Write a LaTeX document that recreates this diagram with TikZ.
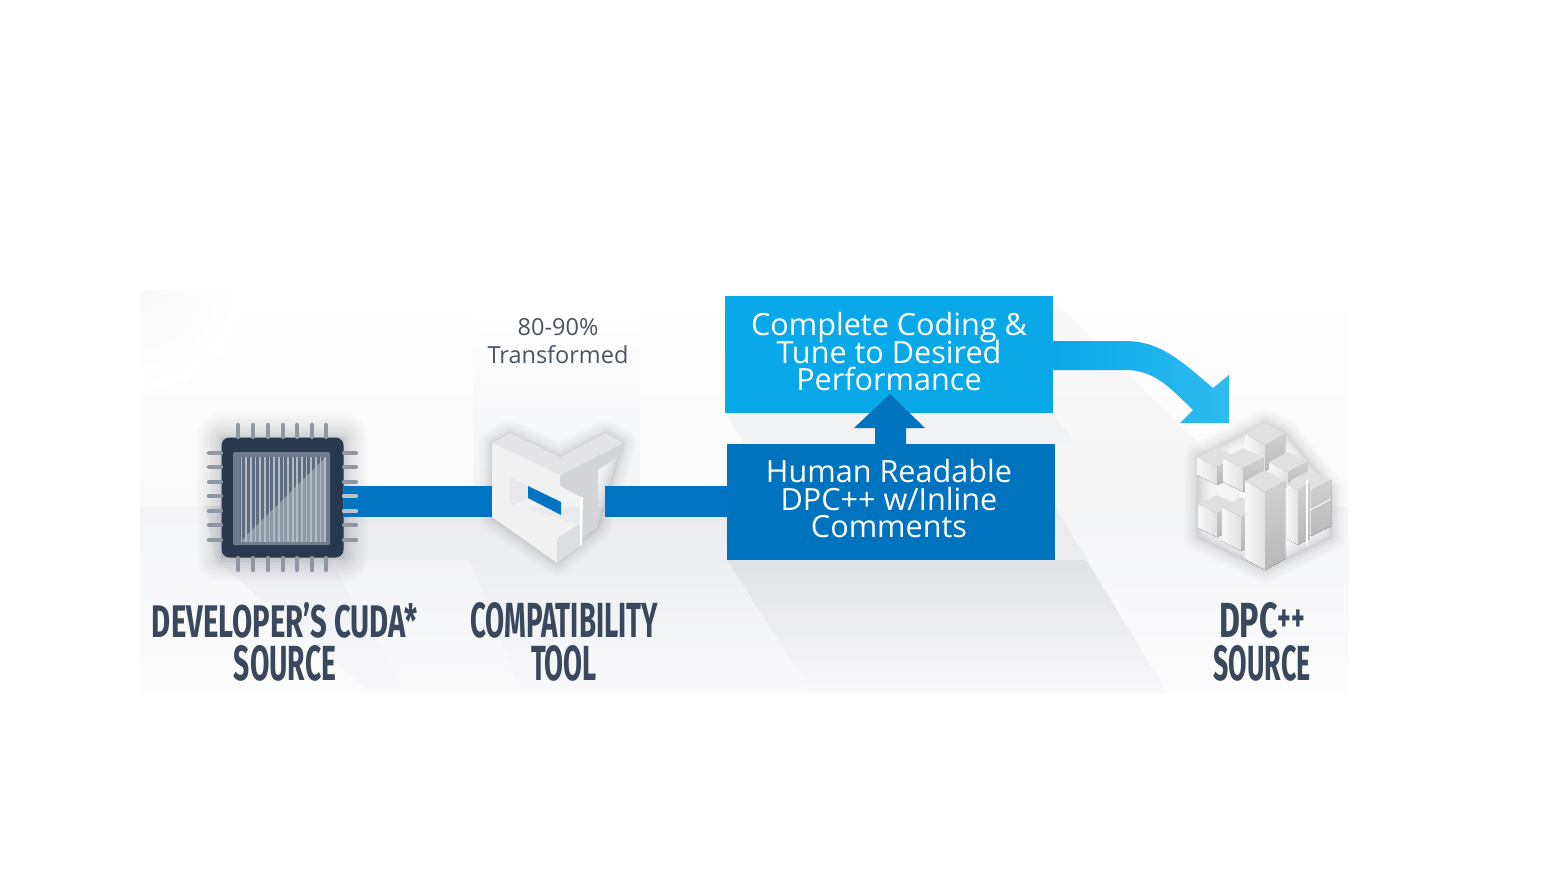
\documentclass[tikz,border=0pt]{standalone}
\usepackage{fontspec}
\usepackage{graphicx}
\setmainfont{Open Sans}
\newfontfamily\headfont{Fira Sans}
\AtBeginDocument{\normallineskiplimit=-100pt\relax\lineskiplimit=-100pt\relax}
\definecolor{barblue}{HTML}{0073C2}
\definecolor{darkblue}{HTML}{0073BE}
\definecolor{cyanbox}{HTML}{08A8E9}
\definecolor{cyanlight}{HTML}{2FBBEE}
\definecolor{navy}{HTML}{26394F}
\definecolor{pin}{HTML}{8F97A1}
\definecolor{headcol}{HTML}{3A485D}
\definecolor{bodycol}{HTML}{4A5563}
\definecolor{dieframe}{HTML}{6E7C8D}
\definecolor{diedark}{HTML}{5D6D80}
\definecolor{dielight}{HTML}{8D99A7}
\definecolor{stripe}{HTML}{B4BBC4}
\definecolor{toolA}{HTML}{D4D5D8}
\definecolor{toolB}{HTML}{E4E4E7}
\definecolor{toolC}{HTML}{F1F1F2}
\definecolor{toolD}{HTML}{DCDDDF}
\definecolor{toolE}{HTML}{E9E9EB}
\definecolor{lowband}{HTML}{E9EAEE}
\definecolor{lowbandend}{HTML}{F9F9FB}
\definecolor{gapgrey}{HTML}{F1F2F4}
\definecolor{cornergrey}{HTML}{F9F9F9}
\tikzset{
  bar/.style={line width=31pt,draw=barblue},
  blockbox/.style={inner sep=0pt},
  blocktext/.style={inner sep=0pt,align=center,text=white,font=\fontsize{30.6}{27.5}\selectfont},
  captext/.style={inner sep=0pt,text=headcol},
  pinline/.style={line width=4.2pt,draw=pin,line cap=round},
  faceT/.style={fill=white!88!black},
  faceL/.style={left color=white!97!black,right color=white!88!black},
  faceR/.style={top color=white!82!black,bottom color=white!72!black},
}
\newcommand{\headtxt}[3]{\resizebox{#1pt}{#2pt}{\headfont\bfseries #3}}
% cube: centre x, top y, half width, half rhombus height, face height
\newcommand{\isocube}[5]{%
  \fill[faceL] (#1-#3,#2+#4) -- (#1,#2+2*#4) -- (#1,#2+2*#4+#5) -- (#1-#3,#2+#4+#5) -- cycle;
  \fill[faceR] (#1+#3,#2+#4) -- (#1,#2+2*#4) -- (#1,#2+2*#4+#5) -- (#1+#3,#2+#4+#5) -- cycle;
  \fill[faceT] (#1-#3,#2+#4) -- (#1,#2) -- (#1+#3,#2+#4) -- (#1,#2+2*#4) -- cycle;
}
\begin{document}
\begin{tikzpicture}[x=1pt,y=-1pt]
\useasboundingbox (0,0) rectangle (1568,870);
% backdrop
\fill[white] (0,0) rectangle (1568,870);
\fill[top color=white,bottom color=white!98!black] (140,290) rectangle (1348,506);
\fill[top color=lowband,bottom color=lowbandend] (140,506) rectangle (1348,692);
\begin{scope}
\clip (140,290) rectangle (1348,506);
\shade[inner color=cornergrey,outer color=white] (140,290) circle (100);
\end{scope}
\fill[top color=white,bottom color=gapgrey] (473,310) rectangle (640,506);
% long diagonal shadows
\fill[black,opacity=0.025] (1053,300) -- (1240,485) -- (1240,506) -- (1053,506) -- cycle;
\fill[gapgrey] (725,413) -- (1053,413) -- (1075,444) -- (745,444) -- cycle;
\fill[white,opacity=0.5] (1055,506) -- (1348,506) -- (1348,692) -- (1167,692) -- cycle;
\fill[white,opacity=0.55] (140,506) -- (205,506) -- (215,560) -- (370,692) -- (140,692) -- cycle;
\fill[white,opacity=0.3] (408,692) -- (330,560) -- (470,560) -- (520,692) -- cycle;
\foreach \i in {1,...,12}{
  \fill[black,opacity=0.005] (727,560) -- (1086,560) -- (1086+\i*11*0.61,560+\i*11) -- (727+\i*11*0.64,560+\i*11) -- cycle;
}
% glows that follow each emblem
\foreach \i in {1,...,14}{
  \draw[black,opacity=0.016,line width={(\i*\i*0.26)*1pt},line join=round] (222,438) rectangle (343,557);
  \draw[black,opacity=0.012,line width={(\i*\i*0.14)*1pt},line join=round] (492,443) -- (510,433) -- (560,457) -- (606,433) -- (623,443) -- (598,527) -- (557,563) -- (492,517) -- cycle;
  \draw[black,opacity=0.012,line width={(\i*\i*0.14)*1pt},line join=round] (1198,457) -- (1246,432) -- (1265,422) -- (1285,432) -- (1331,490) -- (1331,537) -- (1265,570) -- (1198,537) -- cycle;
}
% blocks
\node[minimum width=122pt,minimum height=120pt,inner sep=0pt,rounded corners=8pt,fill=navy] (chip) at (282.5,497.5) {};
\node[minimum width=113pt,minimum height=60pt,inner sep=0pt] (tool) at (548.5,501.5) {};
\node[blockbox,minimum width=328pt,minimum height=116pt,fill=darkblue,
  label={[blocktext,xshift=-2pt,yshift=3pt]center:{Human Readable\\DPC++ w/Inline\\Comments}}] (human) at (891,502) {};
\node[blockbox,minimum width=328pt,minimum height=117pt,fill=cyanbox,
  label={[blocktext,yshift=2.5pt]center:{Complete Coding \&\\Tune to Desired\\Performance}}] (complete) at (889,354.5) {};
% connectors
\draw[bar] (chip.east |- tool.west) -- (tool.west);
\draw[bar] (tool.east) -- (tool.east -| human.west);
% up arrow
\fill[darkblue] (human.north -| 875,0) -- (875,428) -- (854,428) -- (890,394) -- (925,428) -- (906,428) -- (human.north -| 906,0) -- cycle;
% curved arrow
\path[left color=cyanbox,right color=cyanlight] (complete.east |- 0,341) -- (1125,341)
  .. controls (1160,341) and (1180,360) .. (1213,388)
  -- (1229,375) -- (1229,423) -- (1180,423) -- (1193,410)
  .. controls (1170,388) and (1155,370) .. (1125,370)
  -- (complete.east |- 0,370) -- cycle;
% chip pins
\foreach \x in {238,253,268,283,297,312,326}{
  \draw[pinline] (\x,425) -- (\x,437);
  \draw[pinline] (\x,558) -- (\x,570);
}
\foreach \y in {453,467,482,496,511,525,540}{
  \draw[pinline] (209,\y) -- (221,\y);
  \draw[pinline] (344,\y) -- (356,\y);
}
\draw[pinline,draw=pin!60!white] (344,496) -- (356,496);
\draw[pinline,draw=pin!60!white] (344,511) -- (356,511);
% chip die
\fill[dieframe,rounded corners=2pt] (233,452) rectangle (330,545);
\fill[diedark] (240,457) rectangle (326,542);
\fill[dielight] (240,542) -- (326,457) -- (326,542) -- cycle;
\foreach \k in {0,...,18}{
  \draw[line width=1.7pt,draw=stripe] (241.5+\k*4.65,457) -- (241.5+\k*4.65,542);
}
% tool logo
\fill[toolA] (560,475) -- (623,443) -- (623,453) -- (598,470) -- (598,527) -- (581,537) -- (581,497) -- (560,486) -- cycle;
\fill[toolB] (510,433) -- (560,457) -- (606,433) -- (623,443) -- (560,475) -- (492,443) -- cycle;
\fill[toolC] (492,443) -- (560,475) -- (561,515) -- (528,498) -- (528,486) -- (510,477) -- (510,502) -- (578,525) -- (557,538) -- (557,563) -- (492,517) -- cycle;
\fill[toolD] (557,538) -- (578,525) -- (581,525) -- (581,545) -- (557,563) -- cycle;
\fill[toolE] (510,477) -- (528,486) -- (528,498) -- (513,505) -- (510,502) -- cycle;
\fill[barblue] (528,486) -- (561,502) -- (561,515) -- (528,498) -- cycle;
\fill[white] (580,497) -- (583,497) -- (582,545) -- (580,545) -- cycle;
% cubes logo
\isocube{1265}{422}{20}{11.5}{26}
\isocube{1217}{447}{20}{10}{18}
\isocube{1243}{448}{20}{10}{24}
\isocube{1288}{452}{19}{10}{16}
\isocube{1311}{470}{20}{10}{46}
\isocube{1217}{495}{19}{9}{24}
\isocube{1241}{497}{19}{10}{34}
\isocube{1298}{478}{11}{6}{55}
\isocube{1265}{470}{20}{11}{78}
\draw[white,line width=1pt] (1310,510) -- (1331,499);
\draw[white,line width=1.4pt] (1307,480) -- (1307,545);
% captions
\node[inner sep=0pt,align=center,text=bodycol,font=\fontsize{23.5}{27.5}\selectfont] (pct) at (558,341) {80-90\%\\Transformed};
\node[captext] (c1) at (285,620.5) {\headtxt{266}{35}{DEVELOPER’S CUDA*}};
\node[captext] (c2) at (285,663) {\headtxt{102}{35}{SOURCE}};
\node[captext] (c3) at (564,620.5) {\headtxt{188}{35}{COMPATIBILITY}};
\node[captext] (c4) at (564,663) {\headtxt{66}{35}{TOOL}};
\node[captext] (c5) at (1262,620.5) {\headtxt{86}{35}{DPC\raisebox{.12em}{\scalebox{.8}{++}}}};
\node[captext] (c6) at (1262,663) {\headtxt{97}{35}{SOURCE}};
\end{tikzpicture}
\end{document}
